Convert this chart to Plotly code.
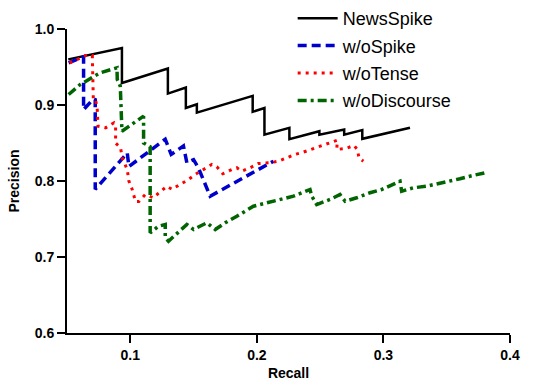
import plotly.graph_objects as go

# NewsSpike
ns_x = [0.051, 0.0934, 0.0934, 0.1297, 0.1297, 0.1439, 0.1439, 0.1526, 0.1526, 0.1967, 0.1967,
        0.206, 0.206, 0.2257, 0.2257, 0.2494, 0.2494, 0.269, 0.269, 0.2833, 0.2833, 0.321]
ns_y = [0.960, 0.975, 0.929, 0.948, 0.915, 0.923, 0.896, 0.901, 0.890, 0.912, 0.891,
        0.896, 0.861, 0.870, 0.855, 0.8655, 0.861, 0.8678, 0.861, 0.867, 0.8555, 0.870]

# w/oSpike
sp_x = [0.0513, 0.0631, 0.0631, 0.0708, 0.0723, 0.0723, 0.0976, 0.0989, 0.1276, 0.1323,
        0.142, 0.1447, 0.15, 0.1539, 0.1631, 0.2131]
sp_y = [0.9555, 0.9634, 0.894, 0.908, 0.907, 0.789, 0.837, 0.819, 0.855, 0.835,
        0.846, 0.824, 0.828, 0.817, 0.780, 0.826]

# w/oTense
te_x = [0.052, 0.0647, 0.070, 0.0708, 0.0726, 0.0739, 0.0745, 0.0805, 0.0871, 0.0884, 0.0884,
        0.0923, 0.0936, 0.0976, 0.0989, 0.1015, 0.1041, 0.1068, 0.1118, 0.1184, 0.1223,
        0.1289, 0.1329, 0.1394, 0.146, 0.1513, 0.1578, 0.1644, 0.1684, 0.1731, 0.1802,
        0.1842, 0.1881, 0.1947, 0.2012, 0.2105, 0.217, 0.2236, 0.2302, 0.2367, 0.2434,
        0.250, 0.2573, 0.2636, 0.2631, 0.2702, 0.2768, 0.2794, 0.2807, 0.2841]
te_y = [0.9555, 0.965, 0.965, 0.907, 0.907, 0.894, 0.872, 0.870, 0.8766, 0.872, 0.850,
        0.8437, 0.8305, 0.815, 0.800, 0.789, 0.773, 0.773, 0.782, 0.778, 0.784,
        0.793, 0.789, 0.795, 0.802, 0.8086, 0.815, 0.8217, 0.8187, 0.8095, 0.815,
        0.8174, 0.813, 0.8174, 0.823, 0.824, 0.826, 0.8305, 0.835, 0.838, 0.842,
        0.8458, 0.8493, 0.8537, 0.8415, 0.8428, 0.8467, 0.8414, 0.8305, 0.826]

# w/oDiscourse
di_x = [0.0513, 0.0605, 0.0763, 0.0895, 0.0897, 0.0921, 0.0934, 0.1013, 0.1105, 0.1105,
        0.1157, 0.1157, 0.1223, 0.1276, 0.1276, 0.1302, 0.1394, 0.1447, 0.150, 0.1605,
        0.1671, 0.175, 0.1842, 0.1973, 0.2079, 0.2184, 0.2289, 0.242, 0.2434, 0.2473,
        0.2578, 0.2657, 0.2697, 0.2789, 0.2894, 0.2986, 0.3065, 0.3131, 0.3144, 0.3236,
        0.3341, 0.3499, 0.3604, 0.3683, 0.3802]
di_y = [0.9138, 0.927, 0.9424, 0.949, 0.9336, 0.9247, 0.8655, 0.8743, 0.8853, 0.850,
        0.845, 0.7318, 0.7405, 0.7428, 0.7257, 0.7208, 0.734, 0.7428, 0.7362, 0.745,
        0.7362, 0.745, 0.7537, 0.7668, 0.7713, 0.7757, 0.780, 0.7888, 0.780, 0.769,
        0.7757, 0.7822, 0.7734, 0.7779, 0.7845, 0.7888, 0.7954, 0.7997, 0.7866, 0.791,
        0.7932, 0.7984, 0.8029, 0.8063, 0.8108]

x_ticks = [0.1, 0.2, 0.3, 0.4]
y_ticks = [0.6, 0.7, 0.8, 0.9, 1.0]

FONT = "Liberation Sans, Arial"

fig = go.Figure()
fig.add_trace(go.Scatter(x=ns_x, y=ns_y, mode="lines", name="NewsSpike", legendgroup="a",
                         line=dict(color="black", width=2.5)))
fig.add_trace(go.Scatter(x=sp_x, y=sp_y, mode="lines", name="w/oSpike", legendgroup="b",
                         line=dict(color="#0000cc", width=3.5, dash="9px,5px")))
fig.add_trace(go.Scatter(x=te_x, y=te_y, mode="lines", name="w/oTense", legendgroup="c",
                         line=dict(color="#ff0000", width=3, dash="3px,5px")))
fig.add_trace(go.Scatter(x=di_x, y=di_y, mode="lines", name="w/oDiscourse", legendgroup="d",
                         line=dict(color="#006400", width=3.5, dash="9px,4px,3px,4px")))

axis_common = dict(showline=True, linecolor="black", linewidth=2, ticks="outside",
                   ticklen=8, tickwidth=2, tickcolor="black", showgrid=False, zeroline=False,
                   automargin=False,
                   tickfont=dict(family=FONT, size=14, color="black", weight="bold"))

fig.update_xaxes(range=[0.05, 0.4], tickvals=x_ticks, ticktext=[f"{v:.1f}" for v in x_ticks],
                 title=dict(text="Recall", font=dict(family=FONT, size=14, color="black", weight="bold"), standoff=7),
                 **axis_common)
fig.update_yaxes(range=[0.6, 1.0], tickvals=y_ticks, ticktext=[f"{v:.1f}" for v in y_ticks],
                 title=dict(text="Precision", font=dict(family=FONT, size=14, color="black", weight="bold"), standoff=12),
                 **axis_common)

fig.update_layout(
    width=537, height=381,
    margin=dict(l=67, r=27, t=29, b=48, autoexpand=False),
    plot_bgcolor="white", paper_bgcolor="white",
    legend=dict(x=0.545, y=1.0, xref="container", yref="container",
                xanchor="left", yanchor="top", traceorder="grouped",
                tracegroupgap=1, itemwidth=40,
                font=dict(family=FONT, size=18, color="black"),
                bgcolor="rgba(0,0,0,0)"),
)

fig.write_html("out.html", config={"displayModeBar": False},
               post_script="document.body.style.margin='0';document.body.style.overflow='hidden';")
